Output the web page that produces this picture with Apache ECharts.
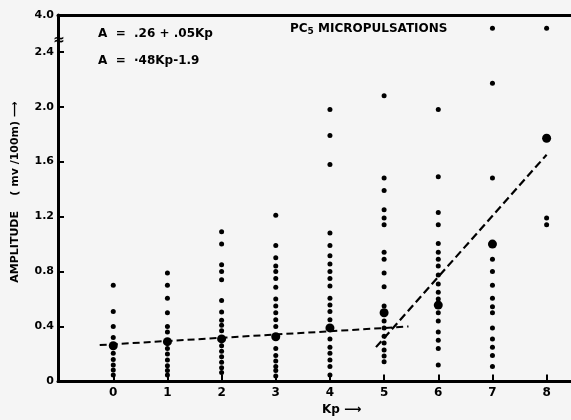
<!DOCTYPE html>
<html><head><meta charset="utf-8">
<script src="https://cdn.jsdelivr.net/npm/echarts@6/dist/echarts.min.js"></script>
<style>html,body{margin:0;padding:0;background:#f5f5f5}#c{width:571px;height:420px}</style>
</head><body><div id="c"></div>
<script>
// Kp categories and tick labels
const kpCategories = [0, 1, 2, 3, 4, 5, 6, 7, 8];
const yTickValues = [0, 0.4, 0.8, 1.2, 1.6, 2.0, 2.4];
const yTopValue = 2.667;      // position of the broken-axis top (labelled 4.0)
const yTopLabel = '4.0';

// individual amplitude readings per Kp (mv/100m)
const amp0 = [0.70, 0.51, 0.40, 0.32, 0.205, 0.16, 0.12, 0.084, 0.047];
const amp1 = [0.79, 0.70, 0.605, 0.50, 0.40, 0.36, 0.24, 0.20, 0.156, 0.115, 0.08, 0.047];
const amp2 = [1.09, 1.00, 0.85, 0.80, 0.74, 0.59, 0.505, 0.445, 0.41, 0.37, 0.26, 0.22, 0.18, 0.14, 0.10, 0.065];
const amp3 = [1.21, 0.99, 0.90, 0.84, 0.80, 0.75, 0.685, 0.60, 0.55, 0.50, 0.45, 0.40, 0.24, 0.19, 0.15, 0.11, 0.08, 0.04];
const amp4 = [1.98, 1.79, 1.58, 1.08, 0.99, 0.915, 0.855, 0.80, 0.75, 0.695, 0.605, 0.556, 0.51, 0.45, 0.31, 0.25, 0.205, 0.156, 0.11, 0.047];
const amp5 = [2.08, 1.48, 1.39, 1.25, 1.19, 1.14, 0.94, 0.89, 0.79, 0.69, 0.55, 0.44, 0.39, 0.33, 0.28, 0.23, 0.185, 0.144];
const amp6 = [1.98, 1.49, 1.23, 1.14, 1.005, 0.94, 0.89, 0.84, 0.775, 0.71, 0.65, 0.60, 0.50, 0.44, 0.36, 0.30, 0.24, 0.12];
const amp7 = [2.17, 1.48, 0.89, 0.80, 0.70, 0.605, 0.544, 0.50, 0.39, 0.31, 0.25, 0.19, 0.11];
const amp8 = [1.19, 1.14];
// readings plotted in the broken top section of the axis
const topKp = [7, 8];
const topAmp = [2.57, 2.57];
// mean amplitude per Kp (large dots)
const meanAmp = [0.26, 0.29, 0.31, 0.326, 0.39, 0.50, 0.556, 1.00, 1.77];
// fitted lines as drawn: [Kp, A]
const fitLow = [[-0.25, 0.265], [5.45, 0.40]];
const fitHigh = [[4.85, 0.25], [8.0, 1.65]];

const ampByKp = [amp0, amp1, amp2, amp3, amp4, amp5, amp6, amp7, amp8];
const smallPts = [];
ampByKp.forEach((arr, i) => arr.forEach(v => smallPts.push([kpCategories[i], v])));
topKp.forEach((k, i) => smallPts.push([k, topAmp[i]]));
const meanPts = meanAmp.map((v, i) => [kpCategories[i], v]);

const FONT = 'DejaVu Sans';
const chart = echarts.init(document.getElementById('c'), null, {renderer: 'canvas'});
const lineAx = {show: true, onZero: false, lineStyle: {color: '#000', width: 3}};
chart.setOption({
  backgroundColor: '#f5f5f5',
  animation: false,
  grid: {left: 58, right: 0, top: 15, bottom: 38.5},
  xAxis: [{
    type: 'value', min: -1.02, max: 8.45, position: 'bottom',
    axisLine: lineAx,
    axisTick: {show: true, inside: true, length: 7, customValues: kpCategories, lineStyle: {color: '#000', width: 2}},
    axisLabel: {customValues: kpCategories, color: '#000', fontFamily: FONT, fontWeight: 'bold', fontSize: 12, margin: 5},
    splitLine: {show: false}
  }, {
    type: 'value', min: -1.02, max: 8.45, position: 'top',
    axisLine: lineAx, axisTick: {show: false}, axisLabel: {show: false}, splitLine: {show: false}
  }],
  yAxis: {
    type: 'value', min: 0, max: yTopValue,
    axisLine: lineAx,
    axisTick: {show: true, inside: true, length: 6, customValues: yTickValues, lineStyle: {color: '#000', width: 2}},
    axisLabel: {
      customValues: yTickValues.concat([yTopValue]), color: '#000', fontFamily: FONT, fontWeight: 'bold', fontSize: 11, margin: 4,
      formatter: v => v > 2.5 ? yTopLabel : (v === 0 ? '0' : v.toFixed(1))
    },
    splitLine: {show: false}
  },
  series: [
    {type: 'line', data: fitLow, symbol: 'none', lineStyle: {color: '#000', width: 2, type: [7, 4]}, z: 3},
    {type: 'line', data: fitHigh, symbol: 'none', lineStyle: {color: '#000', width: 2.2, type: [8, 4]}, z: 3},
    {type: 'scatter', data: smallPts, symbolSize: 5, itemStyle: {color: '#000', opacity: 1}, z: 4},
    {type: 'scatter', data: meanPts, symbolSize: 9, itemStyle: {color: '#000', opacity: 1}, z: 5}
  ],
  graphic: [
    {type: 'text', x: 98, y: 34, style: {text: 'A  =  .26 + .05Kp', font: 'bold 12px "DejaVu Sans"', fill: '#000', textVerticalAlign: 'middle'}},
    {type: 'text', x: 98, y: 61, style: {text: 'A  =  ·48Kp-1.9', font: 'bold 12px "DejaVu Sans"', fill: '#000', textVerticalAlign: 'middle'}},
    {type: 'text', x: 290, y: 29, style: {
      text: '{a|PC}{s|5}{a| MICROPULSATIONS}', textVerticalAlign: 'middle',
      rich: {a: {font: 'bold 12px "DejaVu Sans"', fill: '#000'}, s: {font: 'bold 9px "DejaVu Sans"', fill: '#000', padding: [6, 0, 0, 0]}}
    }},
    {type: 'text', x: 15, y: 192, rotation: Math.PI / 2, style: {
      text: 'AMPLITUDE    ( mv /100m) ⟶', font: 'bold 11px "DejaVu Sans"', fill: '#000', textAlign: 'center', textVerticalAlign: 'middle'
    }},
    {type: 'text', x: 322, y: 410, style: {text: 'Kp ⟶', font: 'bold 12px "DejaVu Sans"', fill: '#000', textVerticalAlign: 'middle'}},
    {type: 'text', x: 59, y: 40, style: {text: '≈', font: 'bold 14px "DejaVu Sans"', fill: '#000', textAlign: 'center', textVerticalAlign: 'middle'}}
  ]
});
</script></body></html>
